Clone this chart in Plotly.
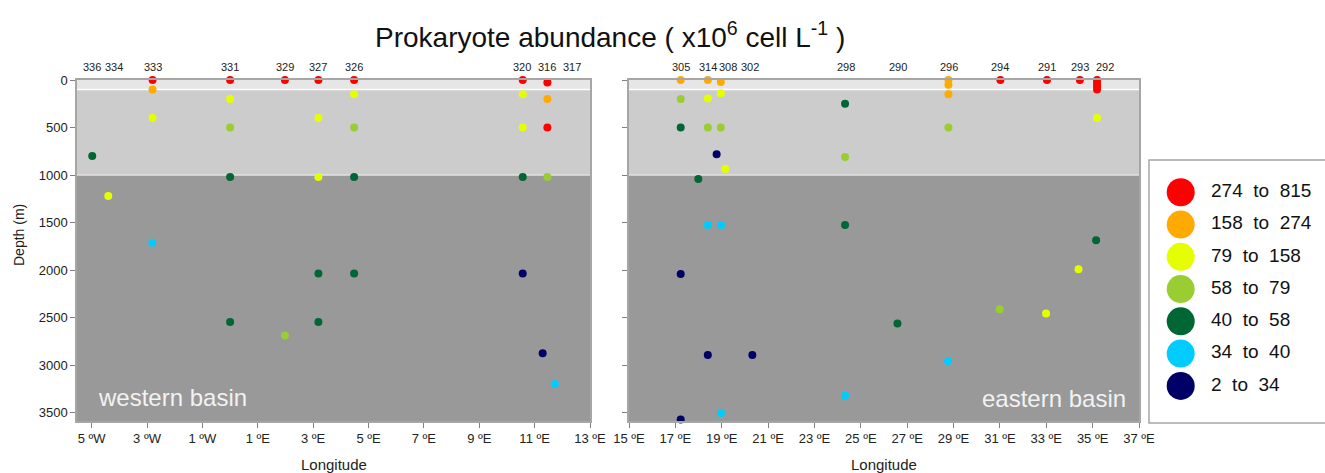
import plotly.graph_objects as go

# ---------------- data ----------------
classes = ["274  to  815", "158  to  274", "79  to  158", "58  to  79",
           "40  to  58", "34  to  40", "2  to  34"]
class_colors = ["#ff0000", "#ffaa00", "#e6ff00", "#9acd32",
                "#006633", "#00ccff", "#000066"]

# western basin samples: longitude, depth (m), abundance class index
west_lon = [-4.98, -4.40,
            -2.80, -2.80, -2.80, -2.81,
            0.0, 0.0, 0.0, 0.0, 0.0,
            1.98, 1.98,
            3.19, 3.19, 3.19, 3.19, 3.19,
            4.48, 4.48, 4.48, 4.48, 4.48,
            10.57, 10.57, 10.57, 10.57, 10.57,
            11.46, 11.46, 11.46, 11.46,
            11.29, 11.73]
west_depth = [800, 1220,
              0, 100, 400, 1710,
              0, 200, 500, 1020, 2545,
              0, 2685,
              0, 400, 1020, 2035, 2545,
              0, 150, 500, 1020, 2035,
              0, 150, 500, 1020, 2035,
              25, 200, 500, 1020,
              2873, 3195]
west_class = [4, 2,
              0, 1, 2, 5,
              0, 2, 3, 4, 4,
              0, 3,
              0, 2, 2, 4, 4,
              0, 2, 3, 4, 4,
              0, 2, 2, 4, 6,
              0, 1, 0, 3,
              6, 5]

# eastern basin samples
east_lon = [17.23, 17.23, 17.23, 17.23, 17.23,
            18.40, 18.40, 18.40, 18.40, 18.40,
            18.96, 18.96, 18.96, 18.97, 18.97,
            18.78, 19.15, 17.99,
            20.32,
            24.32, 24.32, 24.32, 24.32,
            26.58,
            28.78, 28.78, 28.78, 28.78, 28.76,
            31.02, 30.99,
            33.03, 32.99,
            34.45, 34.39,
            35.19, 35.19, 35.19, 35.19, 35.19, 35.15]
east_depth = [0, 200, 500, 2040, 3570,
              0, 195, 500, 1525, 2890,
              20, 140, 500, 1525, 3500,
              780, 935, 1040,
              2890,
              250, 810, 1525, 3320,
              2560,
              0, 50, 150, 500, 2955,
              0, 2410,
              0, 2455,
              0, 1990,
              0, 30, 65, 100, 400, 1685]
east_class = [1, 3, 4, 6, 6,
              1, 2, 3, 5, 6,
              1, 2, 3, 5, 5,
              6, 2, 4,
              6,
              4, 3, 4, 5,
              4,
              1, 1, 1, 3, 5,
              0, 3,
              0, 2,
              0, 2,
              0, 0, 0, 0, 2, 4]

# station labels along the top
west_station_names = ["336", "334", "333", "331", "329", "327", "326", "320", "316", "317"]
west_station_lon = [-5.0, -4.2, -2.79, 0.0, 2.0, 3.19, 4.47, 10.54, 11.45, 12.35]
east_station_names = ["305", "314", "308", "302", "298", "290", "296", "294", "291", "293", "292"]
east_station_lon = [17.23, 18.40, 19.27, 20.23, 24.34, 26.61, 28.79, 31.02, 33.03, 34.45, 35.53]

west_ticks = [-5, -3, -1, 1, 3, 5, 7, 9, 11, 13]
west_ticklabels = ["5 ºW", "3 ºW", "1 ºW", "1 ºE", "3 ºE", "5 ºE", "7 ºE", "9 ºE", "11 ºE", "13 ºE"]
east_ticks = [15, 17, 19, 21, 23, 25, 27, 29, 31, 33, 35, 37]
east_ticklabels = [f"{v} ºE" for v in east_ticks]
depth_ticks = [0, 500, 1000, 1500, 2000, 2500, 3000, 3500]

# depth bands (m)
band_edges = [0, 100, 1000, 3585]
band_colors = ["#e6e6e6", "#cccccc", "#999999"]

# ---------------- figure ----------------
W, H = 1325, 473
FONT = "Liberation Sans, Arial, sans-serif"

def px_x(p):
    return p / W

def px_y(p):
    return 1 - p / H

fig = go.Figure()

for lon, dep, cls, xa, ya in [(west_lon, west_depth, west_class, "x", "y"),
                              (east_lon, east_depth, east_class, "x2", "y2")]:
    fig.add_trace(go.Scatter(
        x=lon, y=dep, mode="markers", xaxis=xa, yaxis=ya,
        marker=dict(size=8, color=[class_colors[c] for c in cls], line=dict(width=0)),
        cliponaxis=False, showlegend=False, hoverinfo="x+y"))

# custom legend
leg_idx = list(range(len(classes)))
fig.add_trace(go.Scatter(
    x=[31.7] * len(classes), y=leg_idx, mode="markers", xaxis="x3", yaxis="y3",
    marker=dict(size=28, color=class_colors, line=dict(width=0)),
    showlegend=False, hoverinfo="skip", cliponaxis=False))
fig.add_trace(go.Scatter(
    x=[62] * len(classes), y=leg_idx, mode="text", xaxis="x3", yaxis="y3",
    text=classes, textposition="middle right",
    textfont=dict(size=19, color="#111111", family=FONT),
    showlegend=False, hoverinfo="skip", cliponaxis=False))

top_px, bot_px = 80, 421
ydom = [px_y(bot_px), px_y(top_px)]
xdom1 = [px_x(77), px_x(590)]
xdom2 = [px_x(629), px_x(1139)]

axis_common = dict(showgrid=False, zeroline=False, showline=True, mirror=True,
                   linecolor="#a6a6a6", linewidth=1.5, ticks="outside", ticklen=5,
                   tickcolor="#808080", automargin=False,
                   tickfont=dict(size=13, color="#222222", family=FONT))

fig.update_layout(
    width=W, height=H, margin=dict(l=0, r=0, t=0, b=0, autoexpand=False),
    paper_bgcolor="white", plot_bgcolor="white",
    font=dict(family=FONT, color="#222222"),
    xaxis=dict(domain=xdom1, range=[-5.53, 13], tickvals=west_ticks, ticktext=west_ticklabels,
               anchor="y", **axis_common),
    yaxis=dict(domain=ydom, range=[3585, 0], tickvals=depth_ticks,
               anchor="x", **axis_common),
    xaxis2=dict(domain=xdom2, range=[15, 37], tickvals=east_ticks, ticktext=east_ticklabels,
                anchor="y2", **axis_common),
    yaxis2=dict(domain=ydom, range=[3585, 0], tickvals=depth_ticks, showticklabels=False,
                anchor="x2", **axis_common),
    xaxis3=dict(domain=[px_x(1149), 1.0], range=[0, 176], visible=False, anchor="y3",
                automargin=False),
    yaxis3=dict(domain=[px_y(423), px_y(160)], range=[7.15, -1.0], visible=False, anchor="x3",
                automargin=False),
)

shapes = []
for xr, yr in [("x domain", "y"), ("x2 domain", "y2")]:
    for i, col in enumerate(band_colors):
        shapes.append(dict(type="rect", xref=xr, yref=yr, x0=0, x1=1,
                           y0=band_edges[i], y1=band_edges[i + 1],
                           fillcolor=col, line=dict(width=0), layer="below"))
    shapes.append(dict(type="line", xref=xr, yref=yr, x0=0, x1=1,
                       y0=band_edges[1], y1=band_edges[1],
                       line=dict(color="#ffffff", width=1.5), layer="below"))
    shapes.append(dict(type="line", xref=xr, yref=yr, x0=0, x1=1,
                       y0=band_edges[2], y1=band_edges[2],
                       line=dict(color="#e2e2e2", width=1.5), layer="below"))
# legend box (its right side runs past the figure edge, as in the original)
shapes.append(dict(type="rect", xref="paper", yref="paper",
                   x0=px_x(1149), x1=1.06, y0=px_y(423), y1=px_y(160),
                   line=dict(color="#a6a6a6", width=1.5), fillcolor="rgba(0,0,0,0)"))
fig.update_layout(shapes=shapes)

ann = []
for names, lons, xr in [(west_station_names, west_station_lon, "x"),
                        (east_station_names, east_station_lon, "x2")]:
    for n, lo in zip(names, lons):
        ann.append(dict(x=lo, xref=xr, y=px_y(67), yref="paper", text=n, showarrow=False,
                        font=dict(size=11, color="#222222", family=FONT),
                        xanchor="center", yanchor="middle"))
ann.append(dict(x=(96 - 77) / 513, xref="x domain", y=px_y(397), yref="paper",
                text="western basin", showarrow=False, xanchor="left", yanchor="middle",
                font=dict(size=24, color="#f2f2f2", family=FONT)))
ann.append(dict(x=(1128 - 629) / 510, xref="x2 domain", y=px_y(398), yref="paper",
                text="eastern basin", showarrow=False, xanchor="right", yanchor="middle",
                font=dict(size=24, color="#f2f2f2", family=FONT)))
ann.append(dict(x=px_x(610), xref="paper", y=px_y(35), yref="paper",
                text="Prokaryote abundance ( x10<sup>6</sup> cell L<sup>-1</sup> )",
                showarrow=False, xanchor="center", yanchor="middle",
                font=dict(size=28, color="#111111", family=FONT)))
# axis titles
ann.append(dict(x=0.5, xref="x domain", y=px_y(464), yref="paper", text="Longitude",
                showarrow=False, xanchor="center", yanchor="middle",
                font=dict(size=15, color="#222222", family=FONT)))
ann.append(dict(x=0.5, xref="x2 domain", y=px_y(464), yref="paper", text="Longitude",
                showarrow=False, xanchor="center", yanchor="middle",
                font=dict(size=15, color="#222222", family=FONT)))
ann.append(dict(x=px_x(19), xref="paper", y=px_y(235), yref="paper", text="Depth (m)",
                showarrow=False, textangle=-90, xanchor="center", yanchor="middle",
                font=dict(size=14, color="#222222", family=FONT)))
fig.update_layout(annotations=ann)

fig.write_html("out.html", config={"displayModeBar": False},
               post_script="document.body.style.margin='0';document.body.style.overflow='hidden';")
